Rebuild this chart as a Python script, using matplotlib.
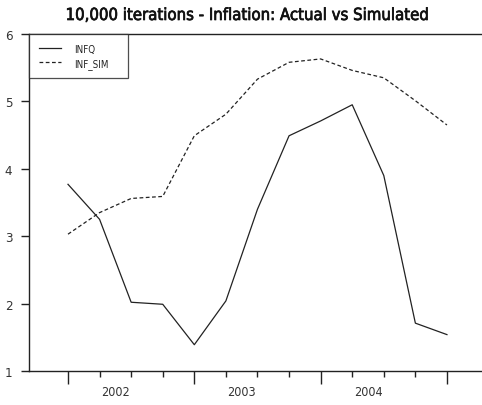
"""Inflation: actual vs simulated (10,000 iterations), quarterly 2002-2005."""

import matplotlib
matplotlib.use("Agg")
import matplotlib.pyplot as plt
import matplotlib.patheffects as pe
import numpy as np

# ── data ───────────────────────────────────────────────────────────────
quarters = ["2002Q1", "2002Q2", "2002Q3", "2002Q4",
            "2003Q1", "2003Q2", "2003Q3", "2003Q4",
            "2004Q1", "2004Q2", "2004Q3", "2004Q4",
            "2005Q1"]
infq = [3.77, 3.25, 2.02, 1.99, 1.39, 2.04, 3.40,
        4.49, 4.71, 4.95, 3.90, 1.71, 1.54]
inf_sim = [3.03, 3.35, 3.56, 3.59, 4.49, 4.81, 5.33,
           5.58, 5.63, 5.46, 5.35, 5.01, 4.65]
years = ["2002", "2003", "2004"]
y_ticks = [1, 2, 3, 4, 5, 6]

plt.rcParams["font.family"] = ["DejaVu Sans"]
plt.rcParams["font.stretch"] = "condensed"
INK = "#222222"

x = np.arange(len(quarters))

fig = plt.figure(figsize=(4.82, 4.06), dpi=100)
ax = fig.add_axes([29 / 482, 1 - 372 / 406, 1 - 29 / 482, (372 - 35) / 406])

ax.plot(x, infq, color=INK, lw=0.9, ls="-", label="INFQ")
ax.plot(x, inf_sim, color=INK, lw=0.9, ls=(0, (3, 2)), label="INF_SIM")

ax.set_xlim(-1.235, 13.11)
ax.set_ylim(1, 6)

# spines: left, bottom and top; right sits off the edge
for side in ("left", "bottom", "top"):
    ax.spines[side].set_color(INK)
    ax.spines[side].set_linewidth(1.0)
ax.spines["right"].set_visible(False)

# y axis
ax.set_yticks(y_ticks)
ax.set_yticklabels([str(v) for v in y_ticks])
ax.tick_params(axis="y", length=6, width=1.0, color=INK, labelsize=9.5,
               labelcolor="#333333", pad=6)

# x axis: long ticks at year boundaries, short ticks at quarters
year_starts = [i for i, q in enumerate(quarters) if q.endswith("Q1")]
other_q = [i for i in x if i not in year_starts]
ax.set_xticks(year_starts)
ax.set_xticklabels([])
ax.set_xticks(other_q, minor=True)
ax.tick_params(axis="x", which="major", length=9, width=1.0, color=INK)
ax.tick_params(axis="x", which="minor", length=4, width=1.0, color=INK)

for k, yr in enumerate(years):
    centre = year_starts[k] + 1.5
    ax.text(centre, -0.062, yr, transform=ax.get_xaxis_transform(),
            ha="center", va="center", fontsize=9, color="#333333")

# legend box is wider than its contents in the original, so stretch it
leg_w = 99 / 453
leg = ax.legend(loc="upper left", bbox_to_anchor=(0, 0, leg_w, 1),
                mode="expand", borderaxespad=0,
                frameon=True, fancybox=False, fontsize=7, handlelength=2.3,
                handletextpad=1.3, borderpad=1.0, labelspacing=0.42)
leg.get_frame().set_edgecolor(INK)
leg.get_frame().set_linewidth(0.9)
for t in leg.get_texts():
    t.set_color(INK)

fig.text(247 / 482, 1 - 16 / 406,
         "10,000 iterations - Inflation: Actual vs Simulated",
         ha="center", va="center", fontsize=12, color="#111111",
         path_effects=[pe.withStroke(linewidth=0.5, foreground="#111111")])

fig.savefig("out.png", dpi=100)
